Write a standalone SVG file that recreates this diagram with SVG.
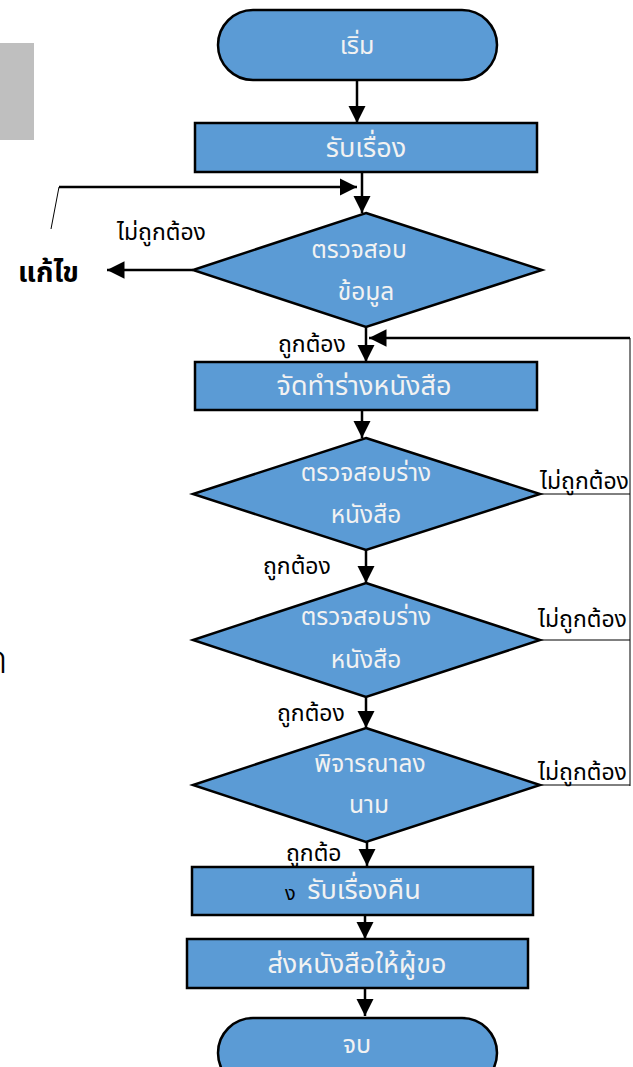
<svg xmlns="http://www.w3.org/2000/svg" width="633" height="1067" viewBox="0 0 633 1067">
  <style>
    .shape { fill: #5B9BD5; stroke: #000; stroke-width: 2.5; }
    .flow { fill: none; stroke: #000; stroke-width: 2.5; }
    .thin { fill: none; stroke: #000; stroke-width: 1; }
    .in { fill: #F2F2F2; font-family: "Noto Sans Thai", "Noto Sans", "DejaVu Sans", sans-serif; font-size: 27px; text-anchor: middle; }
    .in.dia { font-size: 24.5px; }
    .in.term { font-size: 25px; }
    .lbl { fill: #000; font-family: "Noto Sans Thai", "Noto Sans", "DejaVu Sans", sans-serif; font-size: 23px; }
    .bold { fill: #000; font-family: "Noto Sans Thai", "Noto Sans", "DejaVu Sans", sans-serif; font-size: 28px; font-weight: bold; }
  </style>
  <defs>
    <marker id="ah" viewBox="0 0 10 10" refX="10" refY="5" markerWidth="7" markerHeight="7" orient="auto">
      <path d="M0,0 L10,5 L0,10 z" fill="#000"/>
    </marker>
  </defs>

  <rect x="0" y="43" width="34" height="97" fill="#BFBFBF"/>
  <text class="lbl" x="-16" y="673" style="font-size:40px;font-weight:300">ก</text>

  <g id="connectors">
    <path class="flow" marker-end="url(#ah)" d="M357,80 V123"/>
    <path class="flow" marker-end="url(#ah)" d="M362,172 V213"/>
    <path class="flow" marker-end="url(#ah)" d="M59,187 H357"/>
    <path class="thin" stroke-width="1.5" d="M59,187 L51,229"/>
    <path class="flow" marker-end="url(#ah)" d="M193,270 H107"/>
    <path class="flow" marker-end="url(#ah)" d="M366,327 V362"/>
    <path class="flow" marker-end="url(#ah)" d="M630,338 H369"/>
    <path class="thin" d="M630,338 V786"/>
    <path class="flow" marker-end="url(#ah)" d="M362,410 V438"/>
    <path class="thin" d="M540,494 H630"/>
    <path class="flow" marker-end="url(#ah)" d="M366,550 V583"/>
    <path class="thin" d="M540,640 H630"/>
    <path class="flow" marker-end="url(#ah)" d="M366,697 V728"/>
    <path class="thin" d="M540,785 H630"/>
    <path class="flow" marker-end="url(#ah)" d="M367,842 V866"/>
    <path class="flow" marker-end="url(#ah)" d="M365,915 V939"/>
    <path class="flow" marker-end="url(#ah)" d="M365,988 V1016"/>
  </g>

  <g id="start">
    <rect class="shape" x="218" y="10" width="279" height="70" rx="35"/>
    <text class="in term" x="357" y="54">เริ่ม</text>
  </g>

  <g id="receive">
    <rect class="shape" x="195" y="123" width="342" height="49"/>
    <text class="in" x="366" y="157">รับเรื่อง</text>
  </g>

  <g id="check-data">
    <polygon class="shape" points="366,213 542,270 366,327 193,270"/>
    <text class="in dia" x="359" y="258">ตรวจสอบ</text>
    <text class="in dia" x="366" y="300">ข้อมูล</text>
  </g>

  <g id="fix">
    <text class="bold" x="18" y="282">แก้ไข</text>
    <text class="lbl" x="117" y="240">ไม่ถูกต้อง</text>
  </g>

  <g id="draft">
    <rect class="shape" x="195" y="362" width="342" height="48"/>
    <text class="in" x="364" y="395">จัดทำร่างหนังสือ</text>
    <text class="lbl" x="278" y="352">ถูกต้อง</text>
  </g>

  <g id="check-draft-1">
    <polygon class="shape" points="366,438 540,494 366,550 193,494"/>
    <text class="in dia" x="366" y="481">ตรวจสอบร่าง</text>
    <text class="in dia" x="366" y="523">หนังสือ</text>
    <text class="lbl" x="540" y="489">ไม่ถูกต้อง</text>
    <text class="lbl" x="263" y="574">ถูกต้อง</text>
  </g>

  <g id="check-draft-2">
    <polygon class="shape" points="366,583 540,640 366,697 193,640"/>
    <text class="in dia" x="366" y="625">ตรวจสอบร่าง</text>
    <text class="in dia" x="366" y="668">หนังสือ</text>
    <text class="lbl" x="538" y="627">ไม่ถูกต้อง</text>
    <text class="lbl" x="277" y="721">ถูกต้อง</text>
  </g>

  <g id="sign">
    <polygon class="shape" points="366,728 540,785 366,842 193,785"/>
    <text class="in dia" x="370" y="772">พิจารณาลง</text>
    <text class="in dia" x="369" y="813">นาม</text>
    <text class="lbl" x="538" y="780">ไม่ถูกต้อง</text>
  </g>

  <g id="return">
    <rect class="shape" x="192" y="867" width="341" height="48"/>
    <text class="lbl" x="286" y="861">ถูกต้อ</text>
    <text class="lbl" x="285" y="900" style="font-size:20px">ง</text>
    <text class="in" x="364" y="899">รับเรื่องคืน</text>
  </g>

  <g id="send">
    <rect class="shape" x="187" y="939" width="341" height="49"/>
    <text class="in" x="357" y="973">ส่งหนังสือให้ผู้ขอ</text>
  </g>

  <g id="end">
    <rect class="shape" x="218" y="1018" width="279" height="70" rx="35"/>
    <text class="in term" x="357" y="1053">จบ</text>
  </g>
</svg>
